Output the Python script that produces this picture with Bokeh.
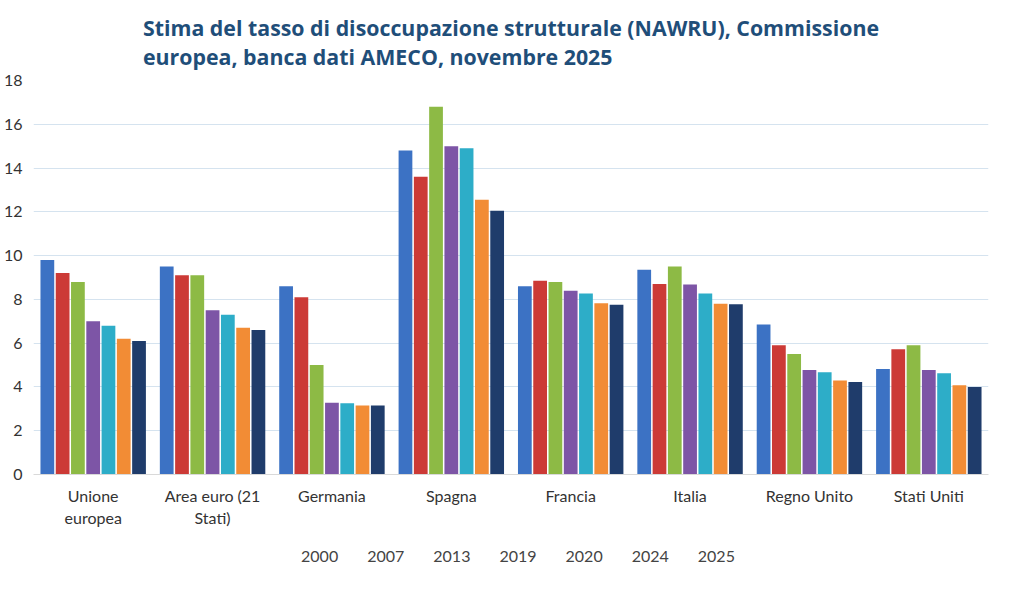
import numpy as np
from bokeh.plotting import figure
from bokeh.layouts import column
from bokeh.models import Legend, LegendItem, FixedTicker, Range1d
from bokeh.embed import file_html
from bokeh.resources import INLINE

categories = ["Unione\neuropea", "Area euro (21\nStati)", "Germania", "Spagna", "Francia", "Italia", "Regno Unito", "Stati Uniti"]
years = ["2000", "2007", "2013", "2019", "2020", "2024", "2025"]
v2000 = [9.8, 9.5, 8.6, 14.8, 8.6, 9.35, 6.85, 4.82]
v2007 = [9.2, 9.1, 8.1, 13.6, 8.85, 8.7, 5.9, 5.72]
v2013 = [8.8, 9.1, 5.0, 16.8, 8.8, 9.5, 5.5, 5.9]
v2019 = [7.0, 7.5, 3.28, 15.0, 8.4, 8.68, 4.77, 4.77]
v2020 = [6.8, 7.3, 3.25, 14.9, 8.27, 8.27, 4.67, 4.62]
v2024 = [6.2, 6.7, 3.15, 12.55, 7.82, 7.8, 4.3, 4.08]
v2025 = [6.1, 6.6, 3.15, 12.05, 7.75, 7.78, 4.23, 4.0]
series = [v2000, v2007, v2013, v2019, v2020, v2024, v2025]
colors = ["#3C72C4", "#CC3A36", "#8DBA45", "#7D55A6", "#2DADC8", "#F28C35", "#1F3C6B"]

p = figure(width=1008, height=530, output_backend="svg", toolbar_location=None,
           x_range=Range1d(-0.5, 7.5), y_range=Range1d(0, 18),
           min_border_left=20, min_border_right=20, min_border_top=10, min_border_bottom=10)
p.title.text = "Stima del tasso di disoccupazione strutturale (NAWRU), Commissione\neuropea, banca dati AMECO, novembre 2025"
p.title.align = "center"
p.title.text_font = "Open Sans"
p.title.text_font_size = "16pt"
p.title.text_color = "#1F4E79"
p.title.text_font_style = "bold"
p.title.standoff = 20

xs = np.arange(len(categories))
step = 0.128
for i, (vals, c) in enumerate(zip(series, colors)):
    p.vbar(x=xs + (i - 3) * step, top=vals, width=step * 0.9, fill_color=c, line_color=None)

p.xaxis.ticker = FixedTicker(ticks=list(range(len(categories))))
p.xaxis.major_label_overrides = {i: c for i, c in enumerate(categories)}
p.yaxis.ticker = FixedTicker(ticks=list(range(0, 19, 2)))
for ax in (p.xaxis, p.yaxis):
    ax.major_label_text_font = "Lato"
    ax.major_label_text_font_size = "12pt"
    ax.major_label_text_color = "#333333"
    ax.axis_line_color = None
    ax.major_tick_line_color = None
    ax.minor_tick_line_color = None
p.xaxis.axis_line_color = "#D9D9D9"
p.xgrid.grid_line_color = None
p.ygrid.grid_line_color = "#D5E3EF"
p.outline_line_color = None

lf = figure(width=1008, height=50, output_backend="svg", toolbar_location=None,
            x_range=Range1d(0, 1), y_range=Range1d(0, 1), min_border=0)
lf.axis.visible = False
lf.grid.visible = False
lf.outline_line_color = None
items = []
for y, c in zip(years, colors):
    r = lf.scatter(x=[], y=[], marker="square", size=10, fill_color=c, line_color=None)
    items.append(LegendItem(label=y, renderers=[r]))
leg = Legend(items=items, orientation="horizontal", location="center",
             label_text_font="Lato", label_text_font_size="12pt", glyph_width=10, glyph_height=10,
             border_line_color=None, background_fill_alpha=0, spacing=14)
lf.add_layout(leg, "center")

open("out.html", "w").write(file_html(column(p, lf, spacing=0), INLINE))
